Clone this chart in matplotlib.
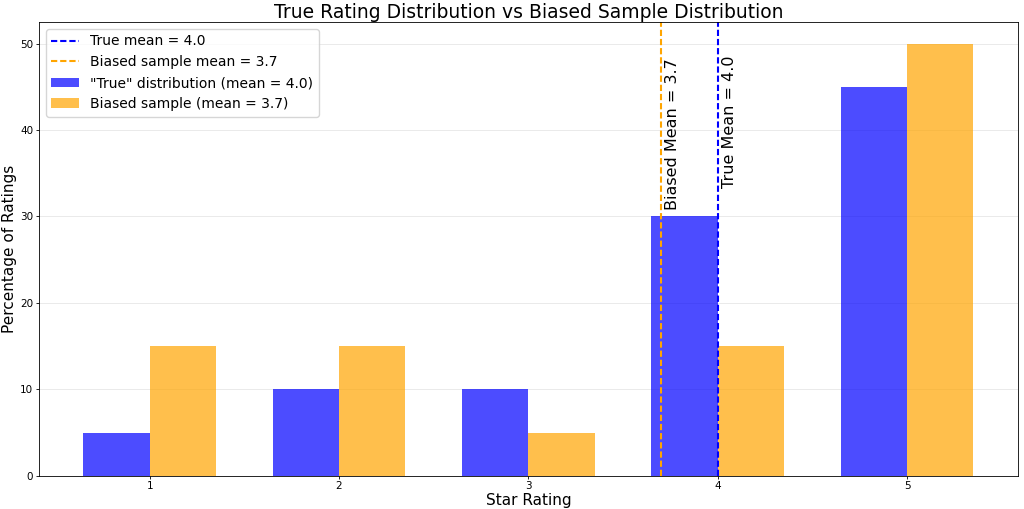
import matplotlib
matplotlib.use("Agg")
import matplotlib.pyplot as plt
import numpy as np

ratings = [1, 2, 3, 4, 5]
true_pct = [5, 10, 10, 30, 45]
biased_pct = [15, 15, 5, 15, 50]
true_mean = 4.0
biased_mean = 3.7

fig, ax = plt.subplots(figsize=(10.24, 5.09), dpi=100)
fig.subplots_adjust(left=0.038, right=0.994, top=0.957, bottom=0.065)

x = np.array(ratings)
w = 0.35
ax.bar(x - w/2, true_pct, w, color='blue', alpha=0.7, label='"True" distribution (mean = 4.0)')
ax.bar(x + w/2, biased_pct, w, color='orange', alpha=0.7, label='Biased sample (mean = 3.7)')
ax.axvline(true_mean, color='blue', linestyle=(0, (3.0, 1.4)), linewidth=1.5, label='True mean = 4.0')
ax.axvline(biased_mean, color='orange', linestyle=(0, (3.0, 1.4)), linewidth=1.5, label='Biased sample mean = 3.7')

ax.text(biased_mean + 0.02, 30.8, 'Biased Mean = 3.7', rotation=90, ha='left', va='bottom', fontsize=11.5)
ax.text(true_mean + 0.02, 33.3, 'True Mean = 4.0', rotation=90, ha='left', va='bottom', fontsize=11.5)

ax.set_xticks(ratings)
ax.tick_params(labelsize=7.5, length=2, pad=2, width=0.6)
for s in ax.spines.values():
    s.set_linewidth(0.6)
ax.set_xlabel('Star Rating', fontsize=11, labelpad=1)
ax.set_ylabel('Percentage of Ratings', fontsize=11, labelpad=2)
ax.set_title('True Rating Distribution vs Biased Sample Distribution', fontsize=13.5, pad=3)
ax.grid(axis='y', alpha=0.3, linewidth=0.6)
ax.set_axisbelow(True)
ax.legend(fontsize=10, loc='upper left')

fig.savefig('out.png', dpi=100)
